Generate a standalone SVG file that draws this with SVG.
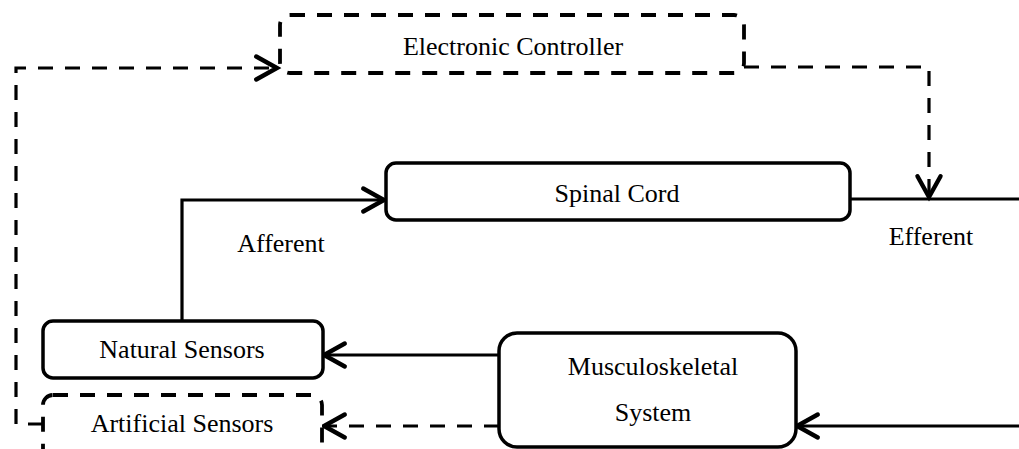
<svg xmlns="http://www.w3.org/2000/svg" width="1019" height="449" viewBox="0 0 1019 449">
<style>
  .box { fill: #fff; stroke: #000; stroke-width: 3.5; }
  .dash { stroke-dasharray: 15 12; stroke-width: 3.8; }
  .line { fill: none; stroke: #000; stroke-width: 3.2; }
  .lbl { font-family: "Liberation Serif", "Times New Roman", serif; font-size: 26px; fill: #000; text-anchor: middle; }
</style>
<defs>
  <marker id="arr" markerUnits="userSpaceOnUse" markerWidth="30" markerHeight="30" viewBox="-22 -13 26 26" refX="0" refY="0" orient="auto" overflow="visible">
    <path d="M-18,-10 L0,0 L-18,10" fill="none" stroke="#000" stroke-width="3.8" stroke-linecap="round" stroke-linejoin="miter"/>
  </marker>
</defs>
<rect width="1019" height="449" fill="#fff"/>
<g id="connectors">
  <path class="line dash" d="M43,424 H16 V68 H277" marker-end="url(#arr)"/>
  <path class="line dash" d="M744,67 H929 V197" marker-end="url(#arr)"/>
  <path class="line" d="M182,321 V200 H384" marker-end="url(#arr)"/>
  <path class="line" d="M850,199 H1019"/>
  <path class="line" d="M499,355 H324" marker-end="url(#arr)"/>
  <path class="line dash" d="M499,426 H324" marker-end="url(#arr)"/>
  <path class="line" d="M1019,426 H797" marker-end="url(#arr)"/>
  <text class="lbl" x="281" y="252">Afferent</text>
  <text class="lbl" x="931" y="245">Efferent</text>
</g>
<g id="controller">
  <rect class="box dash" x="280" y="15" width="464" height="58" rx="10"/>
  <text class="lbl" x="513" y="55">Electronic Controller</text>
</g>
<g id="spinal">
  <rect class="box" x="386" y="163" width="464" height="57" rx="10"/>
  <text class="lbl" x="617" y="202">Spinal Cord</text>
</g>
<g id="natural">
  <rect class="box" x="43" y="321" width="280" height="57" rx="10"/>
  <text class="lbl" x="182" y="358">Natural Sensors</text>
</g>
<g id="artificial">
  <rect class="box dash" x="43" y="395" width="279" height="75" rx="10"/>
  <text class="lbl" x="182" y="432">Artificial Sensors</text>
</g>
<g id="musculo">
  <rect class="box" x="499" y="333" width="297" height="114" rx="18"/>
  <text class="lbl" x="653" y="375">Musculoskeletal</text>
  <text class="lbl" x="653" y="421">System</text>
</g>
</svg>
